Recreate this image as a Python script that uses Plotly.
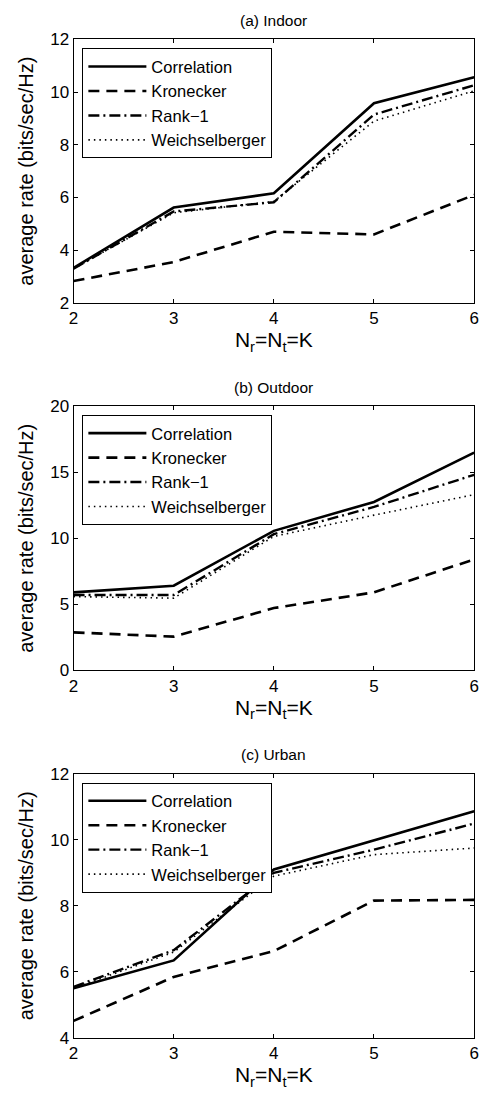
import plotly.graph_objects as go

# Antenna count (N_r = N_t = K)
antennas = [2, 3, 4, 5, 6]

series_names = ["Correlation", "Kronecker", "Rank\u22121", "Weichselberger"]

# Average rate (bits/sec/Hz) per scenario and model
indoor_correlation = [3.33, 5.62, 6.16, 9.58, 10.57]
indoor_kronecker = [2.83, 3.55, 4.70, 4.60, 6.10]
indoor_rank1 = [3.30, 5.47, 5.82, 9.15, 10.26]
indoor_weichsel = [3.30, 5.42, 5.85, 8.90, 10.05]

outdoor_correlation = [5.91, 6.41, 10.56, 12.75, 16.48]
outdoor_kronecker = [2.88, 2.56, 4.72, 5.91, 8.40]
outdoor_rank1 = [5.71, 5.71, 10.31, 12.37, 14.80]
outdoor_weichsel = [5.59, 5.47, 10.14, 11.75, 13.30]

urban_correlation = [5.51, 6.35, 9.10, 9.97, 10.86]
urban_kronecker = [4.52, 5.85, 6.63, 8.16, 8.18]
urban_rank1 = [5.55, 6.66, 9.00, 9.70, 10.49]
urban_weichsel = [5.50, 6.60, 8.90, 9.55, 9.75]

panel_titles = ["(a) Indoor", "(b) Outdoor", "(c) Urban"]
y_ranges = [[2, 12], [0, 20], [4, 12]]
y_dticks = [2, 5, 2]

panels = [
    [indoor_correlation, indoor_kronecker, indoor_rank1, indoor_weichsel],
    [outdoor_correlation, outdoor_kronecker, outdoor_rank1, outdoor_weichsel],
    [urban_correlation, urban_kronecker, urban_rank1, urban_weichsel],
]

line_styles = [
    dict(color="black", width=2.6, dash="solid"),
    dict(color="black", width=2.6, dash="11px,7px"),
    dict(color="black", width=2.4, dash="11px,4px,2px,4px"),
    dict(color="black", width=1.6, dash="1.5px,4px"),
]

W, H = 485, 1109
x_left, x_right = 70, 479
# pixel top/bottom of each plotting area
areas = [(31, 299), (404, 673), (778, 1047)]

fig = go.Figure()
font_family = "Liberation Sans, Arial, sans-serif"

for p, (top, bottom) in enumerate(areas):
    suffix = "" if p == 0 else str(p + 1)
    legend_name = "legend" if p == 0 else f"legend{p + 1}"
    for s, values in enumerate(panels[p]):
        fig.add_trace(go.Scatter(
            x=antennas, y=values, mode="lines", name=series_names[s],
            line=line_styles[s], xaxis="x" + suffix, yaxis="y" + suffix,
            legend=legend_name, showlegend=True,
        ))

    ydom = [1 - bottom / H, 1 - top / H]
    axis_common = dict(
        showline=True, linecolor="black", linewidth=1, mirror="ticks",
        ticks="inside", ticklen=4, tickcolor="black", showgrid=False,
        zeroline=False, tickfont=dict(size=17, color="black", family=font_family),
    )
    fig.update_layout(**{
        "xaxis" + suffix: dict(
            domain=[x_left / W, x_right / W], range=[2, 6], dtick=1,
            anchor="y" + suffix,
            title=dict(text="N<sub>r</sub>=N<sub>t</sub>=K", standoff=2,
                       font=dict(size=21, color="black", family=font_family)),
            **axis_common,
        ),
        "yaxis" + suffix: dict(
            domain=ydom, range=y_ranges[p], dtick=y_dticks[p],
            anchor="x" + suffix,
            title=dict(text="average rate (bits/sec/Hz)", standoff=11,
                       font=dict(size=20, color="black", family=font_family)),
            **axis_common,
        ),
        legend_name: dict(
            x=79 / W, y=1 - (top + 9) / H, xanchor="left", yanchor="top",
            bgcolor="white", bordercolor="black", borderwidth=1,
            font=dict(size=16.5, color="black", family=font_family),
            itemwidth=58, tracegroupgap=0,
        ),
    })
    fig.add_annotation(
        text=panel_titles[p], xref="paper", yref="paper",
        x=(x_left + x_right) / 2 / W, y=1 - (top - 19) / H,
        xanchor="center", yanchor="middle", showarrow=False,
        font=dict(size=15.5, color="black", family=font_family),
    )

fig.update_layout(
    width=W, height=H, margin=dict(l=0, r=0, t=0, b=0),
    paper_bgcolor="white", plot_bgcolor="white",
    font=dict(family=font_family, color="black"),
)

fig.write_html("out.html")
